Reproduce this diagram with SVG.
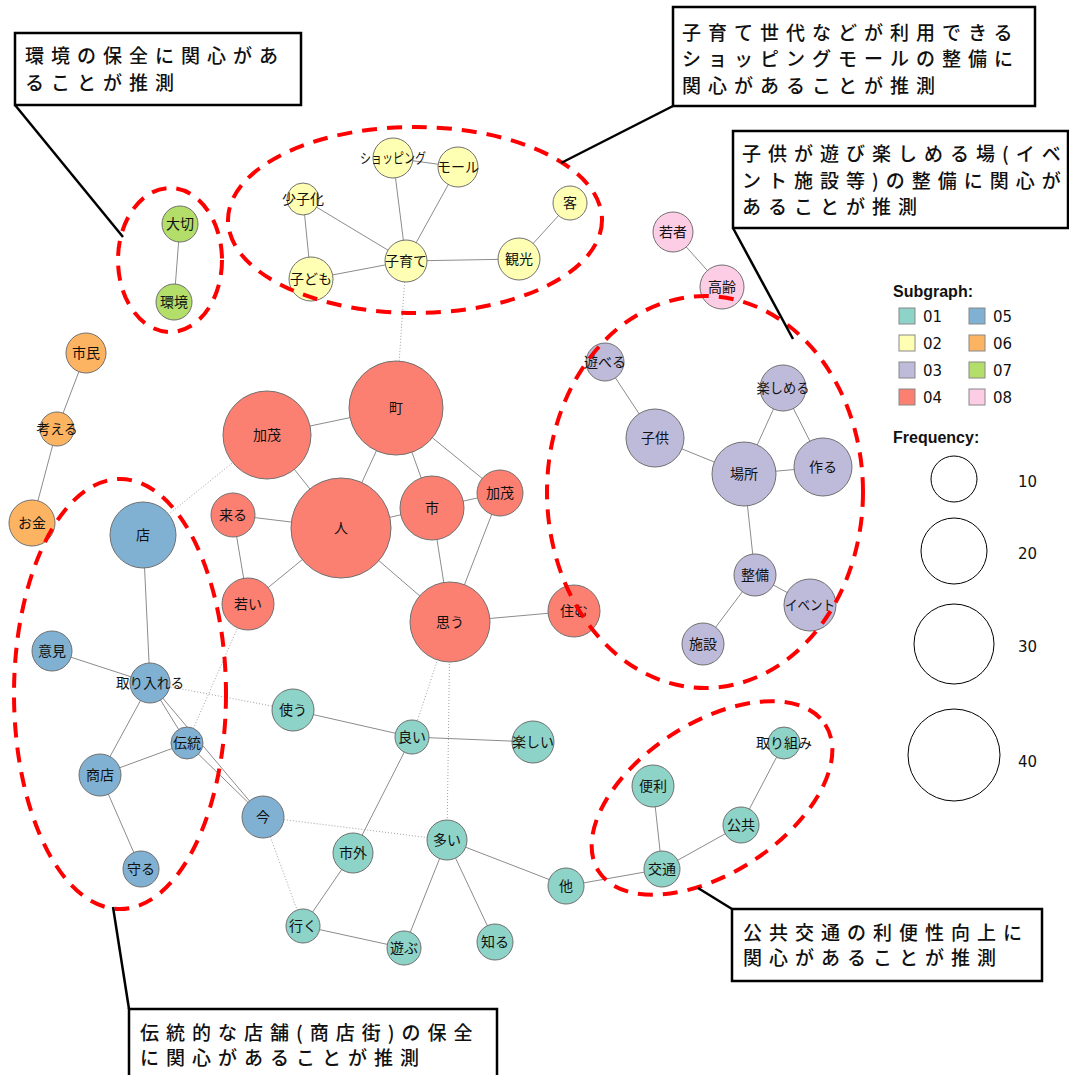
<svg xmlns="http://www.w3.org/2000/svg" width="1069" height="1075" viewBox="0 0 1069 1075">
<style>
.e{stroke:#8c8c8c;stroke-width:1;fill:none}
.d{stroke:#a0a0a0;stroke-width:1;stroke-dasharray:1 2;fill:none}
.n{stroke:#707070;stroke-width:1}
.c01{fill:#8DD3C7}.c02{fill:#FFFFB3}.c03{fill:#BEBADA}.c04{fill:#FB8072}
.c05{fill:#80B1D3}.c06{fill:#FDB462}.c07{fill:#B3DE69}.c08{fill:#FCCDE5}
.t{font-family:"Noto Sans CJK JP","Noto Sans",sans-serif;font-size:14px;fill:#111;text-anchor:middle}
.grp{fill:none;stroke:#ff0000;stroke-width:4;stroke-dasharray:15 10}
.box{fill:#fff;stroke:#000;stroke-width:2.5}
.lead{stroke:#000;stroke-width:2.5;fill:none}
.ct{font-family:"Noto Sans CJK JP",sans-serif;font-size:19px;font-weight:500;letter-spacing:7px;fill:#111}
.lh{font-family:"Liberation Sans",Arial,sans-serif;font-size:16px;font-weight:bold;fill:#111}
.lt{font-family:"DejaVu Sans",Verdana,sans-serif;font-size:15px;fill:#111}
.sq{stroke:#888;stroke-width:1}
.fc{fill:#fff;stroke:#000;stroke-width:1}
</style>

<g id="connectors">
<line class="e" x1="180" y1="224" x2="174" y2="302"/>
<line class="e" x1="303" y1="199" x2="311" y2="279"/>
<line class="e" x1="303" y1="199" x2="406" y2="261"/>
<line class="e" x1="393" y1="158" x2="458" y2="167"/>
<line class="e" x1="393" y1="158" x2="406" y2="261"/>
<line class="e" x1="458" y1="167" x2="406" y2="261"/>
<line class="e" x1="406" y1="261" x2="311" y2="279"/>
<line class="e" x1="406" y1="261" x2="519" y2="259"/>
<line class="e" x1="519" y1="259" x2="570" y2="203"/>
<line class="d" x1="406" y1="261" x2="396" y2="408"/>
<line class="e" x1="673" y1="232" x2="722" y2="287"/>
<line class="e" x1="86" y1="353" x2="57" y2="429"/>
<line class="e" x1="57" y1="429" x2="32" y2="523"/>
<line class="e" x1="267" y1="435" x2="396" y2="408"/>
<line class="e" x1="267" y1="435" x2="341" y2="528"/>
<line class="e" x1="396" y1="408" x2="341" y2="528"/>
<line class="e" x1="396" y1="408" x2="432" y2="508"/>
<line class="e" x1="396" y1="408" x2="500" y2="493"/>
<line class="e" x1="341" y1="528" x2="233" y2="515"/>
<line class="e" x1="341" y1="528" x2="248" y2="604"/>
<line class="e" x1="341" y1="528" x2="432" y2="508"/>
<line class="e" x1="341" y1="528" x2="450" y2="622"/>
<line class="e" x1="233" y1="515" x2="248" y2="604"/>
<line class="e" x1="432" y1="508" x2="500" y2="493"/>
<line class="e" x1="432" y1="508" x2="450" y2="622"/>
<line class="e" x1="500" y1="493" x2="450" y2="622"/>
<line class="e" x1="450" y1="622" x2="574" y2="611"/>
<line class="d" x1="267" y1="435" x2="143" y2="535"/>
<line class="d" x1="248" y1="604" x2="187" y2="743"/>
<line class="d" x1="450" y1="622" x2="447" y2="840"/>
<line class="d" x1="450" y1="622" x2="412" y2="737"/>
<line class="e" x1="143" y1="535" x2="150" y2="683"/>
<line class="e" x1="52" y1="651" x2="150" y2="683"/>
<line class="e" x1="150" y1="683" x2="100" y2="775"/>
<line class="e" x1="150" y1="683" x2="187" y2="743"/>
<line class="e" x1="150" y1="683" x2="263" y2="817"/>
<line class="e" x1="187" y1="743" x2="100" y2="775"/>
<line class="e" x1="187" y1="743" x2="263" y2="817"/>
<line class="e" x1="100" y1="775" x2="141" y2="869"/>
<line class="d" x1="150" y1="683" x2="293" y2="710"/>
<line class="d" x1="263" y1="817" x2="447" y2="840"/>
<line class="d" x1="263" y1="817" x2="303" y2="926"/>
<line class="e" x1="293" y1="710" x2="412" y2="737"/>
<line class="e" x1="412" y1="737" x2="533" y2="742"/>
<line class="e" x1="412" y1="737" x2="353" y2="853"/>
<line class="e" x1="353" y1="853" x2="303" y2="926"/>
<line class="e" x1="303" y1="926" x2="404" y2="948"/>
<line class="e" x1="447" y1="840" x2="404" y2="948"/>
<line class="e" x1="447" y1="840" x2="495" y2="942"/>
<line class="e" x1="447" y1="840" x2="566" y2="886"/>
<line class="e" x1="566" y1="886" x2="662" y2="869"/>
<line class="e" x1="662" y1="869" x2="653" y2="786"/>
<line class="e" x1="662" y1="869" x2="741" y2="825"/>
<line class="e" x1="741" y1="825" x2="784" y2="743"/>
<line class="e" x1="605" y1="362" x2="655" y2="438"/>
<line class="e" x1="655" y1="438" x2="744" y2="474"/>
<line class="e" x1="744" y1="474" x2="783" y2="388"/>
<line class="e" x1="744" y1="474" x2="823" y2="467"/>
<line class="e" x1="783" y1="388" x2="823" y2="467"/>
<line class="e" x1="744" y1="474" x2="755" y2="575"/>
<line class="e" x1="755" y1="575" x2="810" y2="605"/>
<line class="e" x1="755" y1="575" x2="703" y2="644"/>
</g>

<g id="n_taisetsu"><circle class="n c07" cx="180" cy="224" r="18"/><text class="t" x="180" y="229">大切</text></g>
<g id="n_kankyo"><circle class="n c07" cx="174" cy="302" r="18"/><text class="t" x="174" y="307">環境</text></g>
<g id="n_shoshika"><circle class="n c02" cx="303" cy="199" r="16"/><text class="t" x="303" y="204">少子化</text></g>
<g id="n_shopping"><circle class="n c02" cx="393" cy="158" r="20"/><text class="t" x="393" y="163" textLength="66" lengthAdjust="spacingAndGlyphs">ショッピング</text></g>
<g id="n_mall"><circle class="n c02" cx="458" cy="167" r="20"/><text class="t" x="458" y="172">モール</text></g>
<g id="n_kyaku"><circle class="n c02" cx="570" cy="203" r="17"/><text class="t" x="570" y="208">客</text></g>
<g id="n_kosodate"><circle class="n c02" cx="406" cy="261" r="21"/><text class="t" x="406" y="266">子育て</text></g>
<g id="n_kanko"><circle class="n c02" cx="519" cy="259" r="21"/><text class="t" x="519" y="264">観光</text></g>
<g id="n_kodomo"><circle class="n c02" cx="311" cy="279" r="22"/><text class="t" x="311" y="284">子ども</text></g>
<g id="n_wakamono"><circle class="n c08" cx="673" cy="232" r="20"/><text class="t" x="673" y="237">若者</text></g>
<g id="n_korei"><circle class="n c08" cx="722" cy="287" r="22"/><text class="t" x="722" y="292">高齢</text></g>
<g id="n_shimin"><circle class="n c06" cx="86" cy="353" r="20"/><text class="t" x="86" y="358">市民</text></g>
<g id="n_kangaeru"><circle class="n c06" cx="57" cy="429" r="17"/><text class="t" x="57" y="434">考える</text></g>
<g id="n_okane"><circle class="n c06" cx="32" cy="523" r="23"/><text class="t" x="32" y="528">お金</text></g>
<g id="n_kamo1"><circle class="n c04" cx="267" cy="435" r="44"/><text class="t" x="267" y="440">加茂</text></g>
<g id="n_machi"><circle class="n c04" cx="396" cy="408" r="47"/><text class="t" x="396" y="413">町</text></g>
<g id="n_hito"><circle class="n c04" cx="341" cy="528" r="50"/><text class="t" x="341" y="533">人</text></g>
<g id="n_kuru"><circle class="n c04" cx="233" cy="515" r="22"/><text class="t" x="233" y="520">来る</text></g>
<g id="n_wakai"><circle class="n c04" cx="248" cy="604" r="26"/><text class="t" x="248" y="609">若い</text></g>
<g id="n_shi"><circle class="n c04" cx="432" cy="508" r="32"/><text class="t" x="432" y="513">市</text></g>
<g id="n_kamo2"><circle class="n c04" cx="500" cy="493" r="23"/><text class="t" x="500" y="498">加茂</text></g>
<g id="n_omou"><circle class="n c04" cx="450" cy="622" r="40"/><text class="t" x="450" y="627">思う</text></g>
<g id="n_sumu"><circle class="n c04" cx="574" cy="611" r="26"/><text class="t" x="574" y="616">住む</text></g>
<g id="n_mise"><circle class="n c05" cx="143" cy="535" r="33"/><text class="t" x="143" y="540">店</text></g>
<g id="n_iken"><circle class="n c05" cx="52" cy="651" r="20"/><text class="t" x="52" y="656">意見</text></g>
<g id="n_toriireru"><circle class="n c05" cx="150" cy="683" r="20"/><text class="t" x="150" y="688" textLength="68" lengthAdjust="spacingAndGlyphs">取り入れる</text></g>
<g id="n_dento"><circle class="n c05" cx="187" cy="743" r="16"/><text class="t" x="187" y="748">伝統</text></g>
<g id="n_shoten"><circle class="n c05" cx="100" cy="775" r="21"/><text class="t" x="100" y="780">商店</text></g>
<g id="n_ima"><circle class="n c05" cx="263" cy="817" r="21"/><text class="t" x="263" y="822">今</text></g>
<g id="n_mamoru"><circle class="n c05" cx="141" cy="869" r="18"/><text class="t" x="141" y="874">守る</text></g>
<g id="n_tsukau"><circle class="n c01" cx="293" cy="710" r="21"/><text class="t" x="293" y="715">使う</text></g>
<g id="n_yoi"><circle class="n c01" cx="412" cy="737" r="17"/><text class="t" x="412" y="742">良い</text></g>
<g id="n_tanoshii"><circle class="n c01" cx="533" cy="742" r="21"/><text class="t" x="533" y="747">楽しい</text></g>
<g id="n_shigai"><circle class="n c01" cx="353" cy="853" r="20"/><text class="t" x="353" y="858">市外</text></g>
<g id="n_ooi"><circle class="n c01" cx="447" cy="840" r="20"/><text class="t" x="447" y="845">多い</text></g>
<g id="n_hoka"><circle class="n c01" cx="566" cy="886" r="18"/><text class="t" x="566" y="891">他</text></g>
<g id="n_iku"><circle class="n c01" cx="303" cy="926" r="17"/><text class="t" x="303" y="931">行く</text></g>
<g id="n_asobu"><circle class="n c01" cx="404" cy="948" r="17"/><text class="t" x="404" y="953">遊ぶ</text></g>
<g id="n_shiru"><circle class="n c01" cx="495" cy="942" r="18"/><text class="t" x="495" y="947">知る</text></g>
<g id="n_torikumi"><circle class="n c01" cx="784" cy="743" r="16"/><text class="t" x="784" y="748" textLength="56" lengthAdjust="spacingAndGlyphs">取り組み</text></g>
<g id="n_benri"><circle class="n c01" cx="653" cy="786" r="21"/><text class="t" x="653" y="791">便利</text></g>
<g id="n_kokyo"><circle class="n c01" cx="741" cy="825" r="18"/><text class="t" x="741" y="830">公共</text></g>
<g id="n_kotsu"><circle class="n c01" cx="662" cy="869" r="18"/><text class="t" x="662" y="874">交通</text></g>
<g id="n_asoberu"><circle class="n c03" cx="605" cy="362" r="19"/><text class="t" x="605" y="367">遊べる</text></g>
<g id="n_kodomo2"><circle class="n c03" cx="655" cy="438" r="29"/><text class="t" x="655" y="443">子供</text></g>
<g id="n_tanoshimeru"><circle class="n c03" cx="783" cy="388" r="23"/><text class="t" x="783" y="393" textLength="53" lengthAdjust="spacingAndGlyphs">楽しめる</text></g>
<g id="n_basho"><circle class="n c03" cx="744" cy="474" r="32"/><text class="t" x="744" y="479">場所</text></g>
<g id="n_tsukuru"><circle class="n c03" cx="823" cy="467" r="29"/><text class="t" x="823" y="472">作る</text></g>
<g id="n_seibi"><circle class="n c03" cx="755" cy="575" r="21"/><text class="t" x="755" y="580">整備</text></g>
<g id="n_event"><circle class="n c03" cx="810" cy="605" r="26"/><text class="t" x="810" y="610" textLength="50" lengthAdjust="spacingAndGlyphs">イベント</text></g>
<g id="n_shisetsu"><circle class="n c03" cx="703" cy="644" r="21"/><text class="t" x="703" y="649">施設</text></g>

<g id="groups">
<ellipse class="grp" cx="170" cy="260" rx="52" ry="72"/>
<ellipse class="grp" cx="415" cy="220" rx="187" ry="93"/>
<ellipse class="grp" cx="705" cy="492" rx="158" ry="196"/>
<ellipse class="grp" cx="120" cy="694" rx="106" ry="215"/>
<ellipse class="grp" cx="712" cy="798" rx="135" ry="75" transform="rotate(-33 712 798)"/>
</g>

<g id="callouts">
<line class="lead" x1="15" y1="105" x2="123" y2="237"/>
<rect class="box" x="15" y="33" width="286" height="72"/>
<text class="ct" x="25" y="63">環境の保全に関心があ</text>
<text class="ct" x="25" y="90">ることが推測</text>

<line class="lead" x1="673" y1="106" x2="561" y2="163"/>
<rect class="box" x="673" y="7" width="362" height="99"/>
<text class="ct" x="682" y="40">子育て世代などが利用できる</text>
<text class="ct" x="682" y="66">ショッピングモールの整備に</text>
<text class="ct" x="682" y="93">関心があることが推測</text>

<line class="lead" x1="733" y1="228" x2="793" y2="339"/>
<rect class="box" x="733" y="131" width="335" height="97"/>
<text class="ct" x="742" y="161">子供が遊び楽しめる場(イベ</text>
<text class="ct" x="742" y="188">ント施設等)の整備に関心が</text>
<text class="ct" x="742" y="214">あることが推測</text>

<line class="lead" x1="732" y1="909" x2="698" y2="888"/>
<rect class="box" x="732" y="909" width="310" height="72"/>
<text class="ct" x="743" y="940">公共交通の利便性向上に</text>
<text class="ct" x="743" y="965">関心があることが推測</text>

<line class="lead" x1="129" y1="1009" x2="113" y2="907"/>
<rect class="box" x="129" y="1009" width="368" height="80"/>
<text class="ct" x="140" y="1040">伝統的な店舗(商店街)の保全</text>
<text class="ct" x="140" y="1065">に関心があることが推測</text>
</g>

<g id="legend">
<text class="lh" x="893" y="297">Subgraph:</text>
<rect class="sq c01" x="899" y="308" width="16" height="16"/><text class="lt" x="923" y="322">01</text>
<rect class="sq c02" x="899" y="335" width="16" height="16"/><text class="lt" x="923" y="349">02</text>
<rect class="sq c03" x="899" y="362" width="16" height="16"/><text class="lt" x="923" y="376">03</text>
<rect class="sq c04" x="899" y="389" width="16" height="16"/><text class="lt" x="923" y="403">04</text>
<rect class="sq c05" x="969" y="308" width="16" height="16"/><text class="lt" x="993" y="322">05</text>
<rect class="sq c06" x="969" y="335" width="16" height="16"/><text class="lt" x="993" y="349">06</text>
<rect class="sq c07" x="969" y="362" width="16" height="16"/><text class="lt" x="993" y="376">07</text>
<rect class="sq c08" x="969" y="389" width="16" height="16"/><text class="lt" x="993" y="403">08</text>
<text class="lh" x="893" y="443">Frequency:</text>
<circle class="fc" cx="954" cy="479" r="23"/><text class="lt" x="1018" y="487">10</text>
<circle class="fc" cx="954" cy="551" r="33"/><text class="lt" x="1018" y="559">20</text>
<circle class="fc" cx="954" cy="644" r="40"/><text class="lt" x="1018" y="652">30</text>
<circle class="fc" cx="954" cy="755" r="46"/><text class="lt" x="1018" y="767">40</text>
</g>
</svg>
